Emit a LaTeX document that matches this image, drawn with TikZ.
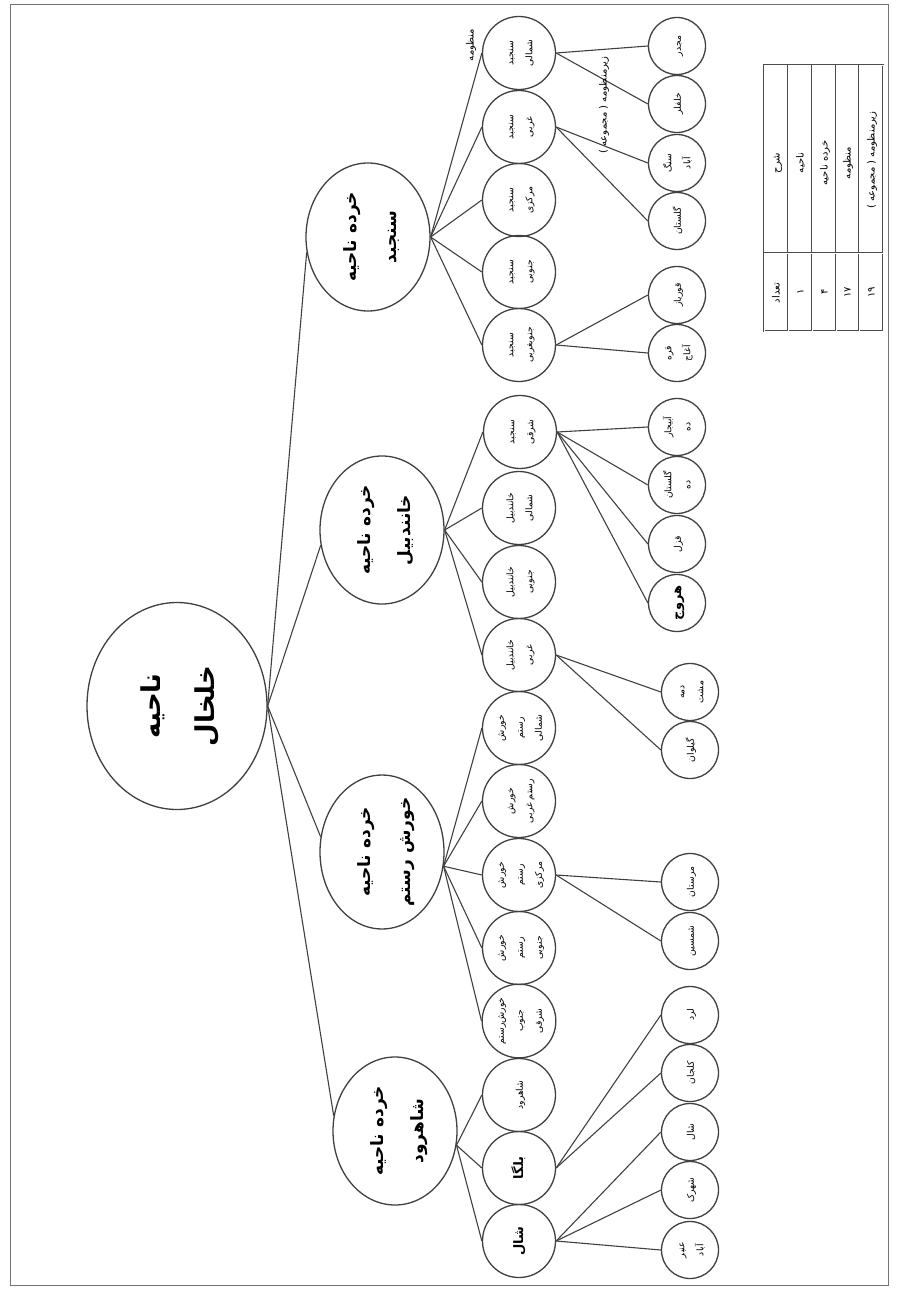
\documentclass[tikz,border=0pt]{standalone}
\usepackage{fontspec}
\usepackage{graphicx}
\usetikzlibrary{shapes.geometric}
\TeXXeTstate=1
\newfontfamily\arabicfont[Script=Arabic]{DejaVu Sans}
\newcommand\fa[1]{\beginR #1\endR}
\newcommand\rtxt[1]{\rotatebox{90}{\begin{tabular}{@{}c@{}}#1\end{tabular}}}
\tikzset{
  ln/.style={draw=black!75, line width=0.55pt},
  rootnode/.style={ellipse, draw=black!75, line width=0.65pt, minimum width=90pt, minimum height=103.5pt, inner sep=0pt, font=\arabicfont\bfseries\fontsize{13}{27}\selectfont},
  zone/.style={ellipse, draw=black!75, line width=0.65pt, minimum width=62pt, minimum height=74pt, inner sep=0pt, font=\arabicfont\bfseries\fontsize{8.5}{20}\selectfont},
  sub/.style={circle, draw=black!75, line width=0.65pt, minimum size=36.5pt, inner sep=0pt, font=\arabicfont\fontsize{4.6}{9.5}\selectfont},
  leaf/.style={circle, draw=black!75, line width=0.65pt, minimum size=28.5pt, inner sep=0pt, font=\arabicfont\fontsize{4.6}{9.5}\selectfont},
  boldtxt/.style={font=\arabicfont\bfseries\fontsize{6.5}{10}\selectfont},
  plaintxt/.style={inner sep=0pt, font=\arabicfont\fontsize{5}{9}\selectfont},
  tbl/.style={draw=black!70, line width=0.35pt, double=white, double distance=0.45pt},
}
\begin{document}
\begin{tikzpicture}[x=0.5pt, y=-0.5pt]
\useasboundingbox (0,0) rectangle (896,1289);
\draw[black!55, line width=0.5pt] (10,5) rectangle (888,1285);

% root
\node[rootnode] (root) at (177,706) {\rtxt{\fa{ناحیه}\\\fa{خلخال}}};

% level 1
\node[zone] (za) at (368,237) {\rtxt{\fa{خرده ناحیه}\\\fa{سنجبد}}};
\node[zone] (zb) at (382,530) {\rtxt{\fa{خرده ناحیه}\\\fa{خانندبیل}}};
\node[zone] (zc) at (382,852) {\rtxt{\fa{خرده ناحیه}\\\fa{خورش رستم}}};
\node[zone] (zd) at (395,1131) {\rtxt{\fa{خرده ناحیه}\\\fa{شاهرود}}};

% level 2
\node[sub] (s1) at (519,53)  {\rtxt{\fa{سنجبد}\\\fa{شمالی}}};
\node[sub] (s2) at (519,127) {\rtxt{\fa{سنجبد}\\\fa{غربی}}};
\node[sub] (s3) at (519,200) {\rtxt{\fa{سنجبد}\\\fa{مرکزی}}};
\node[sub] (s4) at (519,272) {\rtxt{\fa{سنجبد}\\\fa{جنوبی}}};
\node[sub] (s5) at (519,345) {\rtxt{\fa{سنجبد}\\\fa{جنوبغربی}}};
\node[sub] (k1) at (520,432) {\rtxt{\fa{سنجبد}\\\fa{شرقی}}};
\node[sub] (k2) at (519,508) {\rtxt{\fa{خانندبیل}\\\fa{شمالی}}};
\node[sub] (k3) at (519,582) {\rtxt{\fa{خانندبیل}\\\fa{جنوبی}}};
\node[sub] (k4) at (519,655) {\rtxt{\fa{خانندبیل}\\\fa{غربی}}};
\node[sub] (r1) at (519,728) {\rtxt{\fa{خورش}\\\fa{رستم}\\\fa{شمالی}}};
\node[sub] (r2) at (519,801) {\rtxt{\fa{خورش}\\\fa{رستم غربی}}};
\node[sub] (r3) at (519,875) {\rtxt{\fa{خورش}\\\fa{رستم}\\\fa{مرکزی}}};
\node[sub] (r4) at (519,948) {\rtxt{\fa{خورش}\\\fa{رستم}\\\fa{جنوبی}}};
\node[sub] (r5) at (519,1021) {\rtxt{\fa{خورش‌رستم}\\\fa{جنوب}\\\fa{شرقی}}};
\node[sub] (h1) at (519,1095) {\rtxt{\fa{شاهرود}}};
\node[sub, boldtxt] (h2) at (519,1168) {\rtxt{\fa{بلگا}}};
\node[sub, boldtxt] (h3) at (519,1241) {\rtxt{\fa{شال}}};

% level 3
\node[leaf] (t1)  at (677,46)  {\rtxt{\fa{مجدر}}};
\node[leaf] (t2)  at (677,104) {\rtxt{\fa{خلفلر}}};
\node[leaf] (t3)  at (677,163) {\rtxt{\fa{سنگ}\\\fa{آباد}}};
\node[leaf] (t4)  at (677,221) {\rtxt{\fa{گلستان}}};
\node[leaf] (t5)  at (677,295) {\rtxt{\fa{قوریاز}}};
\node[leaf] (t6)  at (677,353) {\rtxt{\fa{قره}\\\fa{آغاج}}};
\node[leaf] (t7)  at (677,427) {\rtxt{\fa{آبیجار}\\\fa{ده}}};
\node[leaf] (t8)  at (677,485) {\rtxt{\fa{گلستان}\\\fa{ده}}};
\node[leaf] (t9)  at (677,544) {\rtxt{\fa{قزل}}};
\node[leaf, boldtxt] (t10) at (677,603) {\rtxt{\fa{هروج}}};
\node[leaf] (t11) at (690,692) {\rtxt{\fa{دمه}\\\fa{مشت}}};
\node[leaf] (t12) at (690,750) {\rtxt{\fa{گیلوان}}};
\node[leaf] (t13) at (690,882) {\rtxt{\fa{مرستان}}};
\node[leaf] (t14) at (690,941) {\rtxt{\fa{شمسین}}};
\node[leaf] (t15) at (690,1015) {\rtxt{\fa{لرد}}};
\node[leaf] (t16) at (690,1073) {\rtxt{\fa{کلجان}}};
\node[leaf] (t17) at (690,1132) {\rtxt{\fa{شال}}};
\node[leaf] (t18) at (690,1190) {\rtxt{\fa{شهرک}}};
\node[leaf] (t19) at (690,1250) {\rtxt{\fa{عنبر}\\\fa{آباد}}};

% root -> level 1
\draw[ln] (root.east) -- (za.194);
\draw[ln] (root.east) -- (zb.194);
\draw[ln] (root.east) -- (zc.166);
\draw[ln] (root.east) -- (zd.166);

% level 1 -> level 2
\foreach \n in {s1,s2,s3,s4,s5} \draw[ln] (za.east) -- (\n.west);
\foreach \n in {k1,k2,k3,k4} \draw[ln] (zb.east) -- (\n.west);
\foreach \n in {r1,r2,r3,r4,r5} \draw[ln] (zc.-13) -- (\n.west);
\foreach \n in {h1,h2,h3} \draw[ln] (zd.-13) -- (\n.west);

% level 2 -> level 3
\draw[ln] (s1.east) -- (t1.west);
\draw[ln] (s1.east) -- (t2.west);
\draw[ln] (s2.east) -- (t3.west);
\draw[ln] (s2.east) -- (t4.west);
\draw[ln] (s5.east) -- (t5.west);
\draw[ln] (s5.east) -- (t6.west);
\foreach \n in {t7,t8,t9,t10} \draw[ln] (k1.east) -- (\n.west);
\draw[ln] (k4.east) -- (t11.west);
\draw[ln] (k4.east) -- (t12.west);
\draw[ln] (r3.east) -- (t13.west);
\draw[ln] (r3.east) -- (t14.west);
\draw[ln] (h2.east) -- (t15.west);
\draw[ln] (h2.east) -- (t16.west);
\foreach \n in {t17,t18,t19} \draw[ln] (h3.east) -- (\n.west);

% labels
\node[plaintxt] (lab1) at (470,45) {\rtxt{\fa{منظومه}}};
\node[plaintxt] (lab2) at (603,105) {\rtxt{\fa{زیرمنظومه ( مجموعه )}}};

% table
\draw[tbl] (764,65) rectangle (883,331);
\foreach \xx in {788,812,836,859} \draw[tbl] (\xx,65) -- (\xx,331);
\draw[tbl] (764,253) -- (883,253);
\node[plaintxt] (c11) at (776,163) {\rtxt{\fa{شرح}}};
\node[plaintxt] (c12) at (776,293) {\rtxt{\fa{تعداد}}};
\node[plaintxt] (c21) at (800,163) {\rtxt{\fa{ناحیه}}};
\node[plaintxt] (c22) at (800,292) {\rtxt{\fa{۱}}};
\node[plaintxt] (c31) at (824,163) {\rtxt{\fa{خرده ناحیه}}};
\node[plaintxt] (c32) at (824,292) {\rtxt{\fa{۴}}};
\node[plaintxt] (c41) at (847,163) {\rtxt{\fa{منظومه}}};
\node[plaintxt] (c42) at (847,292) {\rtxt{\fa{۱۷}}};
\node[plaintxt] (c51) at (871,160) {\rtxt{\fa{زیرمنظومه ( مجموعه )}}};
\node[plaintxt] (c52) at (871,292) {\rtxt{\fa{۱۹}}};
\end{tikzpicture}
\end{document}
